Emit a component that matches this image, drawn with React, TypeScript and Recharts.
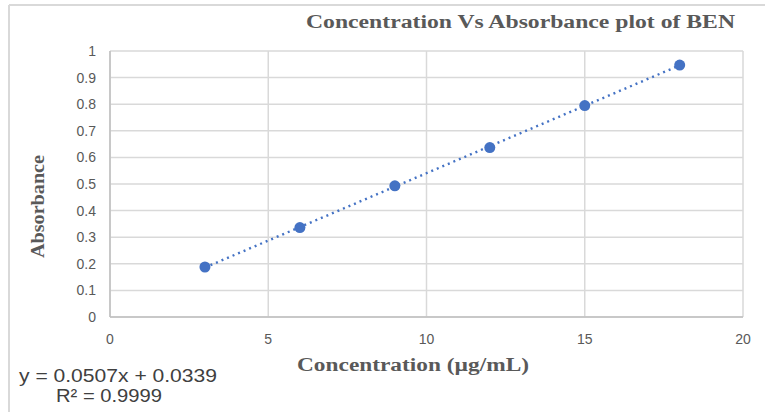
import { ScatterChart, Scatter, XAxis, YAxis, CartesianGrid, Label } from 'recharts';

// valeurs
const concentration = [3, 6, 9, 12, 15, 18];
const absorbance = [0.188, 0.336, 0.493, 0.637, 0.795, 0.947];

// extrémités de la droite de tendance (pointillés)
const trendX = [3, 18];
const trendY = [0.186, 0.946];

const xTicks = [0, 5, 10, 15, 20];
const yTicks = [0, 0.1, 0.2, 0.3, 0.4, 0.5, 0.6, 0.7, 0.8, 0.9, 1];

const chartTitle = 'Concentration Vs Absorbance plot of BEN';
const xTitle = 'Concentration (µg/mL)';
const yTitle = 'Absorbance';
const equation = 'y = 0.0507x + 0.0339';
const rSquared = 'R² = 0.9999';

const points = concentration.map((x, i) => ({ x, y: absorbance[i] }));
const trend = trendX.map((x, i) => ({ x, y: trendY[i] }));

const blue = '#4472C4';
const tickStyle = { fill: '#595959', fontSize: 14, fontFamily: 'Liberation Sans, sans-serif' };
const serifBold = { fontFamily: 'Liberation Serif, serif', fontWeight: 'bold' as const, fill: '#595959' };

export default function App() {
  return (
    <div style={{ position: 'absolute', left: 0, top: 0, width: 765, height: 412, background: '#fff', overflow: 'hidden' }}>
      <ScatterChart width={765} height={412} margin={{ top: 51, right: 22, bottom: 0, left: 0 }}>
        <CartesianGrid stroke="#d9d9d9" strokeWidth={1.5} />
        <XAxis
          type="number"
          dataKey="x"
          domain={[0, 20]}
          ticks={xTicks}
          height={95}
          tickLine={false}
          tickSize={0}
          tickMargin={17}
          axisLine={{ stroke: '#bfbfbf', strokeWidth: 1.5 }}
          tick={tickStyle}
        >
          <Label
            content={() => (
              <text x={297} y={371} textLength={232} lengthAdjust="spacingAndGlyphs" fontSize={18} {...serifBold}>
                {xTitle}
              </text>
            )}
          />
        </XAxis>
        <YAxis
          type="number"
          dataKey="y"
          domain={[0, 1]}
          ticks={yTicks}
          width={110}
          tickLine={false}
          tickSize={0}
          tickMargin={14}
          axisLine={{ stroke: '#bfbfbf', strokeWidth: 1.5 }}
          tick={tickStyle}
        >
          <Label
            content={() => (
              <text
                x={44}
                y={258}
                transform="rotate(-90 44 258)"
                textLength={103}
                lengthAdjust="spacingAndGlyphs"
                fontSize={18}
                {...serifBold}
              >
                {yTitle}
              </text>
            )}
          />
        </YAxis>
        <Scatter
          data={trend}
          isAnimationActive={false}
          line={{ stroke: blue, strokeWidth: 2.4, strokeDasharray: '2 4' }}
          shape={() => <g />}
        />
        <Scatter
          data={points}
          isAnimationActive={false}
          shape={(p: any) => <circle cx={p.cx} cy={p.cy} r={5.5} fill={blue} />}
        />
      </ScatterChart>
      <svg width={765} height={412} style={{ position: 'absolute', left: 0, top: 0, pointerEvents: 'none' }}>
        <line x1={9} y1={5} x2={765} y2={5} stroke="#d9d9d9" strokeWidth={2} />
        <line x1={9} y1={5} x2={9} y2={412} stroke="#d9d9d9" strokeWidth={2} />
        <text x={306} y={28} textLength={429} lengthAdjust="spacingAndGlyphs" fontSize={18} {...serifBold}>
          {chartTitle}
        </text>
        <text x={19} y={382} textLength={198} lengthAdjust="spacingAndGlyphs" fontSize={19} fill="#404040" fontFamily="Liberation Sans, sans-serif">
          {equation}
        </text>
        <text x={56} y={402} textLength={106} lengthAdjust="spacingAndGlyphs" fontSize={19} fill="#404040" fontFamily="Liberation Sans, sans-serif">
          {rSquared}
        </text>
      </svg>
    </div>
  );
}
